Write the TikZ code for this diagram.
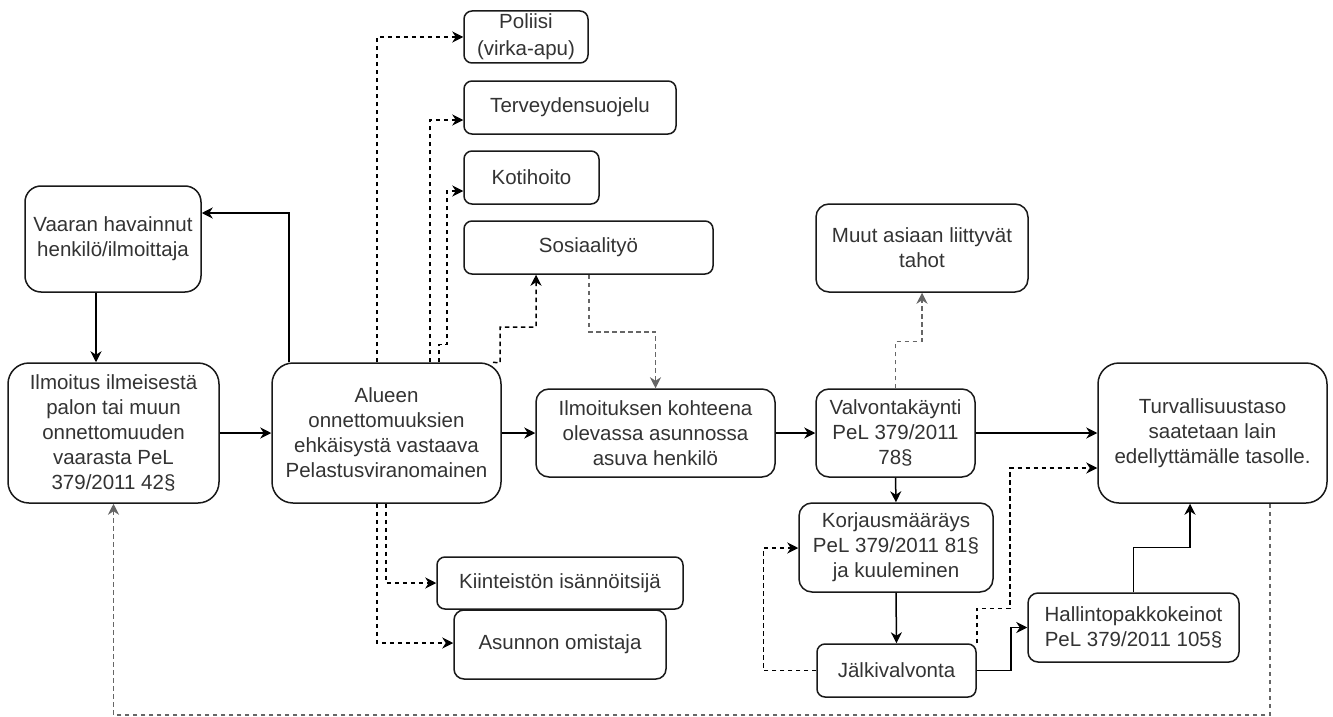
\documentclass[tikz,border=0pt]{standalone}
\usepackage{fontspec}
\setmainfont{Liberation Sans}
\usetikzlibrary{arrows.meta}
\begin{document}
\begin{tikzpicture}[x=1pt,y=-1pt,
  box/.style={draw=black!90, line width=1.5pt, fill=white, align=center, text=black!80,
    font=\fontsize{20.5}{25}\selectfont, inner sep=0pt},
  line/.style={line width=1.5pt, draw=black, -{Stealth[length=11pt,width=11pt,inset=3.5pt]}},
  dline/.style={line, dash pattern=on 4.5pt off 3.5pt},
  gline/.style={dline, draw=black!60}]
\useasboundingbox (0,0) rectangle (1333,717);
% nodes
\node[box, minimum width=176, minimum height=106, rounded corners=16] (vaaran) at (113,239) {Vaaran havainnut\\henkilö/ilmoittaja};
\node[box, minimum width=211, minimum height=140, rounded corners=21] (ilm) at (113.5,433) {Ilmoitus ilmeisestä\\palon tai muun\\onnettomuuden\\vaarasta PeL\\379/2011 42§};
\node[box, minimum width=229, minimum height=140, rounded corners=21] (alueen) at (386.5,433) {Alueen\\onnettomuuksien\\ehkäisystä vastaava\\Pelastusviranomainen};
\node[box, minimum width=239, minimum height=88, rounded corners=13] (kohde) at (655.5,433) {Ilmoituksen kohteena\\olevassa asunnossa\\asuva henkilö};
\node[box, minimum width=246, minimum height=52, rounded corners=8] (kiint) at (560,583) {Kiinteistön isännöitsijä};
\node[box, minimum width=212, minimum height=69, rounded corners=10] (asunnon) at (560,644.5) {Asunnon omistaja};
\node[box, minimum width=124, minimum height=52, rounded corners=8, font=\fontsize{20.5}{27}\selectfont] (poliisi) at (526,37) {Poliisi\\(virka-apu)};
\node[box, minimum width=212, minimum height=53, rounded corners=8] (terv) at (570,107.5) {Terveydensuojelu};
\node[box, minimum width=135, minimum height=53, rounded corners=8] (koti) at (531.5,177.5) {Kotihoito};
\node[box, minimum width=249, minimum height=53, rounded corners=8] (sosiaali) at (588.5,247.5) {Sosiaalityö};
\node[box, minimum width=212, minimum height=88, rounded corners=13] (muut) at (922,248) {Muut asiaan liittyvät\\tahot};
\node[box, minimum width=159, minimum height=88, rounded corners=13] (valv) at (895.5,433) {Valvontakäynti\\PeL 379/2011\\78§};
\node[box, minimum width=229, minimum height=140, rounded corners=21] (turv) at (1212.5,433) {Turvallisuustaso\\saatetaan lain\\edellyttämälle tasolle.};
\node[box, minimum width=194, minimum height=89, rounded corners=13] (korj) at (896,547.5) {Korjausmääräys\\PeL 379/2011 81§\\ja kuuleminen};
\node[box, minimum width=159, minimum height=53, rounded corners=8] (jalki) at (896.5,670.5) {Jälkivalvonta};
\node[box, minimum width=211, minimum height=69, rounded corners=10] (hallinto) at (1133.5,627.5) {Hallintopakkokeinot\\PeL 379/2011 105§};
% solid connectors
\draw[line] (vaaran.south -| 96,0) -- (ilm.north -| 96,0);
\draw[line] (ilm.east) -- (alueen.west);
\draw[line] (alueen.north -| 289,0) |- (vaaran.east |- 0,213);
\draw[line] (alueen.east) -- (kohde.west);
\draw[line] (kohde.east) -- (valv.west);
\draw[line] (valv.east) -- (turv.west);
\draw[line] (valv.south) -- (korj.north);
\draw[line] (korj.south) -- (jalki.north);
\draw[line] (jalki.east) -- ++(34,0) |- (hallinto.west);
\draw[line] (hallinto.north) -- ++(0,-45) -| (turv.south -| 1190,0);
% dashed connectors
\draw[dline] (jalki.west) -- ++(-53,0) |- (korj.west |- 0,548);
\draw[dline] (jalki.north east) -- ++(0,-35) -| (1010,468) -- (turv.west |- 0,468);
\draw[gline] (turv.south -| 1270,0) -- (1270,715) -| (ilm.south);
\draw[gline] (valv.north) -- ++(0,-47) -| (muut.south);
\draw[dline] (alueen.north -| 377,0) |- (poliisi.west);
\draw[dline] (alueen.north -| 430,0) |- (terv.west |- 0,120);
\draw[dline] (alueen.north -| 439,0) -- ++(0,-18) -| (447,191) -- (koti.west |- 0,191);
\draw[dline] (alueen.north -| 493,0) -- (500,363) -- (500,327) -| (sosiaali.south -| 536,0);
\draw[gline] (sosiaali.south -| 589,0) -- ++(0,57) -| (kohde.north);
\draw[dline] (alueen.south -| 386,0) |- (kiint.west);
\draw[dline] (alueen.south -| 377,0) |- (asunnon.west |- 0,643);
\end{tikzpicture}
\end{document}
